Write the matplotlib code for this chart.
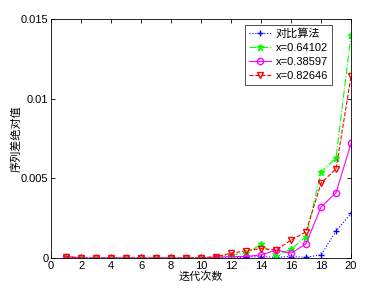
import matplotlib
matplotlib.use('Agg')
import matplotlib.pyplot as plt
import numpy as np

plt.rcParams['font.family'] = ['Liberation Sans', 'Noto Sans CJK SC', 'DejaVu Sans']

# data
iters = np.arange(1, 21)
base = [0.0001, 0, 0, 0, 0, 0, 0, 0, 0, 0, 0.00003, 0.00002, 0.00005, 0.0001, 0.00005,
        0.0001, 0.00005, 0.0002, 0.0017, 0.0028]
x_064 = [0.0001, 0, 0, 0, 0, 0, 0, 0, 0, 0.00002, 0.00005, 0.0002, 0.0003, 0.00086, 0.00013,
         0.00055, 0.00134, 0.0054, 0.0063, 0.0140]
x_038 = [0.0001, 0, 0, 0, 0, 0, 0, 0, 0, 0, 0.00003, 0.0001, 0.0001, 0.0002, 0.0005,
         0.0003, 0.0009, 0.0032, 0.0041, 0.0072]
x_082 = [0.0001, 0, 0, 0, 0, 0, 0, 0, 0, 0.00002, 0.0001, 0.0003, 0.00046, 0.0006, 0.0005,
         0.00113, 0.00165, 0.0047, 0.0056, 0.0114]
labels = ['对比算法', 'x=0.64102', 'x=0.38597', 'x=0.82646']

fig = plt.figure(figsize=(3.87, 2.9), dpi=100)
ax = fig.add_axes([0.132, 0.110, 0.775, 0.824])

ax.plot(iters, base, ':', color='blue', marker='+', markersize=4.5, linewidth=0.8, label=labels[0])
ax.plot(iters, x_064, '-.', color='#00ff00', marker='*', markersize=4.5, linewidth=0.8, label=labels[1])
ax.plot(iters, x_038, '-', color='magenta', marker='o', markersize=4.5, markerfacecolor='none',
        linewidth=0.8, label=labels[2])
ax.plot(iters, x_082, '--', color='red', marker='v', markersize=4.5, markerfacecolor='none',
        linewidth=0.8, label=labels[3])

ax.set_xlim(0, 20)
ax.set_ylim(0, 0.015)
ax.set_xticks(np.arange(0, 21, 2))
ax.set_yticks([0, 0.005, 0.01, 0.015])
ax.set_yticklabels(['0', '0.005', '0.01', '0.015'])
ax.tick_params(direction='in', top=True, right=True, labelsize=8, length=3, width=0.6, pad=2)
for s in ax.spines.values():
    s.set_linewidth(0.6)

ax.set_xlabel('迭代次数', fontsize=8, labelpad=0)
ax.set_ylabel('序列差绝对值', fontsize=8, labelpad=-1)

leg = ax.legend(loc='upper right', fontsize=8, frameon=True, fancybox=False,
                edgecolor='black', handlelength=2.0, borderaxespad=0.5,
                labelspacing=0.35, borderpad=0.35, handletextpad=0.4,
                bbox_to_anchor=(0.955, 1.0))
leg.get_frame().set_linewidth(0.6)

plt.savefig('out.png', dpi=100)
